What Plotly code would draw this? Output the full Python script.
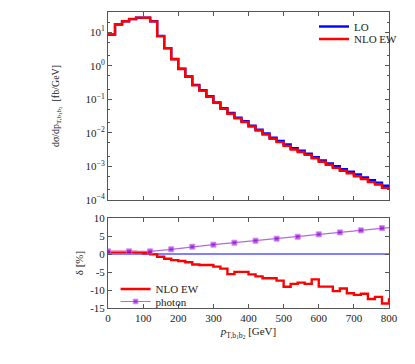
import plotly.graph_objects as go

# bin low edges (20 GeV bins from 0 to 800)
bin_lo = list(range(0, 800, 20))

# LO differential cross section [fb/GeV], one value per bin
lo_xsec = [8.45, 16.9, 20.9, 24.4, 26.9, 26.9, 21.0, 7.66, 3.34, 1.59,
           0.816, 0.481, 0.268, 0.186, 0.123, 0.0808, 0.0542, 0.0392, 0.0284, 0.0221,
           0.0164, 0.0125, 0.00954, 0.00718, 0.00572, 0.00451, 0.00349, 0.00293, 0.00240, 0.00187,
           0.00151, 0.00123, 0.00101, 0.000819, 0.000696, 0.000575, 0.000472, 0.000389, 0.000329, 0.000266]

# relative NLO EW correction [%] per bin
delta_ew = [0.55, 0.55, 0.55, 0.55, 0.5, 0.2, -0.1, -0.75, -1.3, -1.7,
            -1.95, -2.3, -2.9, -3.05, -3.05, -3.5, -4.05, -5.6, -4.95, -4.95,
            -5.65, -6.2, -6.75, -6.75, -7.4, -9.1, -8.3, -7.95, -8.3, -7.05,
            -9.05, -9.05, -10.3, -9.6, -10.9, -11.35, -11.05, -12.5, -11.9, -13.75]
delta_ew_end = -12.3

# photon-induced contribution [%]
photon_x = [0, 60, 120, 180, 240, 300, 360, 420, 480, 540, 600, 660, 720, 780, 800]
photon_y = [0.74, 0.74, 0.74, 1.3, 2.04, 2.6, 3.15, 3.7, 4.26, 4.8, 5.46, 6.0, 6.57, 7.2, 7.35]

# tick labels
top_tickvals = [1e-4, 1e-3, 1e-2, 1e-1, 1e0, 1e1]
top_ticktext = ["10<sup>−4</sup>", "10<sup>−3</sup>", "10<sup>−2</sup>",
                "10<sup>−1</sup>", "10<sup>0</sup>", "10<sup>1</sup>"]
bot_tickvals = [-15, -10, -5, 0, 5, 10]
bot_ticktext = ["-15", "-10", "-5", "0", "5", "10"]
x_tickvals = [0, 100, 200, 300, 400, 500, 600, 700, 800]

nlo_xsec = [v * (1 + d / 100) for v, d in zip(lo_xsec, delta_ew)]
xs = bin_lo + [800]

FONT = "Liberation Serif"
RED = "#ff0000"
BLUE = "#0000ff"
VIOLET = "#9400d3"

fig = go.Figure()

fig.add_trace(go.Scatter(x=xs, y=lo_xsec + [lo_xsec[-1]], mode="lines", line_shape="hv",
                         line=dict(color=BLUE, width=2.4), name="LO",
                         xaxis="x", yaxis="y", legend="legend"))
fig.add_trace(go.Scatter(x=xs, y=nlo_xsec + [nlo_xsec[-1]], mode="lines", line_shape="hv",
                         line=dict(color=RED, width=2.4), name="NLO EW",
                         xaxis="x", yaxis="y", legend="legend3"))

# lower panel
fig.add_trace(go.Scatter(x=[0, 800], y=[0, 0], mode="lines",
                         line=dict(color=BLUE, width=1), showlegend=False,
                         xaxis="x2", yaxis="y2"))
fig.add_trace(go.Scatter(x=xs, y=delta_ew + [delta_ew_end], mode="lines", line_shape="hv",
                         line=dict(color=RED, width=2.4), name="NLO EW",
                         xaxis="x2", yaxis="y2", legend="legend2"))
fig.add_trace(go.Scatter(x=photon_x, y=photon_y, mode="lines+markers",
                         line=dict(color="#b866e8", width=1.2),
                         marker=dict(color=VIOLET, size=[5] * 14 + [0], symbol="square"),
                         name="photon", xaxis="x2", yaxis="y2", legend="legend4"))

axis_common = dict(showline=True, mirror="ticks", linecolor="#555", linewidth=1,
                   ticks="inside", ticklen=4, tickcolor="#555", showgrid=False,
                   zeroline=False, automargin=False,
                   tickfont=dict(family=FONT, size=11, color="#222"))

leg = dict(xanchor="left", yanchor="middle", bgcolor="rgba(0,0,0,0)",
           font=dict(family=FONT, size=11, color="#222"), itemwidth=30)

fig.update_layout(
    width=415, height=364,
    margin=dict(l=108, r=15, t=12, b=56),
    plot_bgcolor="white", paper_bgcolor="white",
    font=dict(family=FONT, size=11, color="#222"),
    xaxis=dict(domain=[0, 1], range=[0, 800], tickvals=x_tickvals, showticklabels=False,
               anchor="y", **axis_common),
    yaxis=dict(domain=[0.365, 1], type="log", range=[-4, 1.6],
               tickvals=top_tickvals, ticktext=top_ticktext,
               minor=dict(ticks="inside", ticklen=2, tickcolor="#555"),
               title=dict(text="dσ/dp<sub>T,b<sub>1</sub>b<sub>2</sub></sub>  [fb/GeV]",
                          font=dict(family=FONT, size=10), standoff=24),
               anchor="x", **axis_common),
    xaxis2=dict(domain=[0, 1], range=[0, 800], tickvals=x_tickvals, anchor="y2",
                title=dict(text="<i>p</i><sub>T,b<sub>1</sub>b<sub>2</sub></sub> [GeV]",
                           font=dict(family=FONT, size=11), standoff=4),
                **axis_common),
    yaxis2=dict(domain=[0, 0.304], range=[-15, 10], tickvals=bot_tickvals,
                ticktext=bot_ticktext,
                title=dict(text="δ [%]", font=dict(family=FONT, size=11), standoff=4),
                anchor="x2", **axis_common),
    legend=dict(x=0.733, y=0.951, **leg),
    legend3=dict(x=0.733, y=0.909, **leg),
    legend2=dict(x=0.027, y=0.064, **leg),
    legend4=dict(x=0.027, y=0.022, **leg),
)

fig.write_html("out.html", config={"displayModeBar": False},
               post_script="document.body.style.margin='0';")
